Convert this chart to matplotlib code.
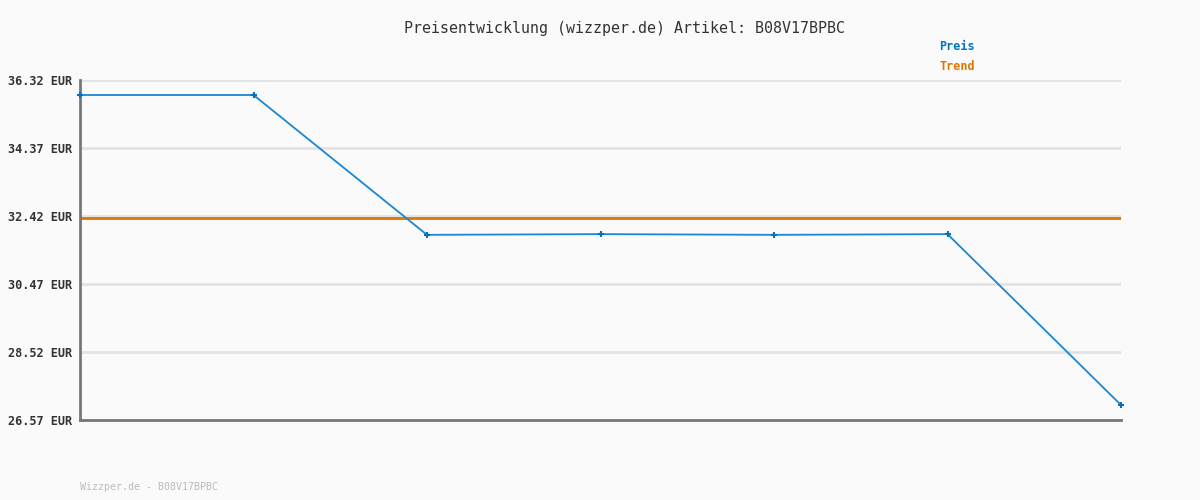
import matplotlib
matplotlib.use("Agg")
import matplotlib.pyplot as plt

# data
dates = [0, 1, 2, 3, 4, 5, 6]
preis = [35.89, 35.89, 31.88, 31.90, 31.88, 31.90, 27.00]
trend = 32.36
yticks = [26.57, 28.52, 30.47, 32.42, 34.37, 36.32]
ytick_labels = [f"{v:.2f} EUR" for v in yticks]

plt.rcParams['font.family'] = ['DejaVu Sans Mono']

fig = plt.figure(figsize=(12, 5), dpi=100, facecolor="#fafafa")
ax = fig.add_axes([80/1200, 80/500, 1041/1200, 340/500])
ax.set_facecolor("#fafafa")

for v in yticks:
    ax.axhline(v, color="#e3e3e3", lw=2, zorder=1)

ax.axhline(trend, color="#dd7700", lw=2, zorder=2)
ax.plot(dates, preis, color="#1a86d4", lw=1.3, marker="+", ms=4, mew=1.5,
        mec="#0a6fb8", zorder=3, clip_on=False)

ax.set_xlim(0, 6)
ax.set_ylim(yticks[0], yticks[-1])
ax.set_yticks(yticks)
ax.set_yticklabels(ytick_labels, fontsize=8.6, fontweight="bold", color="#333333")
ax.set_xticks([])
ax.tick_params(axis="y", length=0, pad=5.5)

for s in ["top", "right"]:
    ax.spines[s].set_visible(False)
ax.spines["left"].set_color("#777777")
ax.spines["bottom"].set_color("#777777")
ax.spines["left"].set_linewidth(2)
ax.spines["bottom"].set_linewidth(2)

fig.text(624/1200, 1 - 28/500, "Preisentwicklung (wizzper.de) Artikel: B08V17BPBC",
         ha="center", va="center", fontsize=10.8, color="#333333")
fig.text(939/1200, 1 - 47/500, "Preis", ha="left", va="center",
         fontsize=8.5, fontweight="bold", color="#0077c2")
fig.text(939/1200, 1 - 67/500, "Trend", ha="left", va="center",
         fontsize=8.5, fontweight="bold", color="#dd7700")
fig.text(80/1200, 1 - 487/500, "Wizzper.de - B08V17BPBC", ha="left", va="center",
         fontsize=7.2, color="#bbbbbb")

fig.savefig("out.png", dpi=100, facecolor="#fafafa")
